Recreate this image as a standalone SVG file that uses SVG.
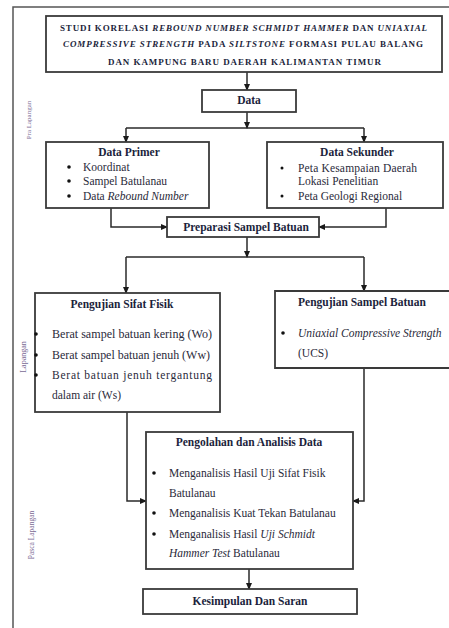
<svg xmlns="http://www.w3.org/2000/svg" width="449" height="628" viewBox="0 0 449 628">
<style>
.box{fill:#fff;stroke:#3a3a3a;stroke-width:1.8}
.ln{fill:none;stroke:#2a2a2a;stroke-width:1.5}
.t{font-family:"Liberation Serif","Times New Roman",serif;font-size:11.5px;fill:#2a2a3a}
.b{font-weight:bold;fill:#1c1f3c}
.c{text-anchor:middle}
.i{font-style:italic}
.h{font-family:"Liberation Serif","Times New Roman",serif;font-size:9px;font-weight:bold;fill:#1c1f3c}
.side{font-family:"Liberation Serif","Times New Roman",serif;font-size:7px;fill:#7a6a95;text-anchor:middle}
.dot{fill:#111}
</style>
<defs>
<marker id="ar" markerUnits="userSpaceOnUse" markerWidth="7" markerHeight="7" viewBox="0 0 7 7" refX="6" refY="3.5" orient="auto">
<path d="M0,0.5 L7,3.5 L0,6.5 Z" fill="#1a1a1a"/>
</marker>
</defs>
<rect width="449" height="628" fill="#fff"/>
<path d="M13,628 V7 H449" fill="none" stroke="#555" stroke-width="1.5"/>
<g id="side-labels">
<text class="side" transform="translate(31,120) rotate(-90)">Pra Lapangan</text>
<text class="side" transform="translate(26,357) rotate(-90)" style="font-size:8px">Lapangan</text>
<text class="side" transform="translate(34,535) rotate(-90)" style="font-size:7.5px">Pasca Lapangan</text>
</g>
<g id="connectors">
<line class="ln" x1="247" y1="72" x2="247" y2="90" marker-end="url(#ar)"/>
<line class="ln" x1="247" y1="112" x2="247" y2="128" marker-end="url(#ar)"/>
<line class="ln" x1="126" y1="128" x2="364" y2="128"/>
<line class="ln" x1="126" y1="128" x2="126" y2="142" marker-end="url(#ar)"/>
<line class="ln" x1="364" y1="128" x2="364" y2="142" marker-end="url(#ar)"/>
<path class="ln" d="M111,208 V227 H167" marker-end="url(#ar)"/>
<path class="ln" d="M386,208 V227 H319" marker-end="url(#ar)"/>
<line class="ln" x1="247" y1="237" x2="247" y2="257" marker-end="url(#ar)"/>
<line class="ln" x1="126" y1="257" x2="364" y2="257"/>
<line class="ln" x1="126" y1="257" x2="126" y2="293" marker-end="url(#ar)"/>
<line class="ln" x1="364" y1="257" x2="364" y2="291" marker-end="url(#ar)"/>
<path class="ln" d="M127,412 V501 H146" marker-end="url(#ar)"/>
<path class="ln" d="M364,368 V501 H353" marker-end="url(#ar)"/>
<line class="ln" x1="249" y1="569" x2="249" y2="589" marker-end="url(#ar)"/>
</g>
<g id="title">
<rect class="box" x="46" y="16" width="396" height="56"/>
<text class="h" x="60" y="31" textLength="367" lengthAdjust="spacing">STUDI KORELASI <tspan font-style="italic">REBOUND NUMBER SCHMIDT HAMMER</tspan> DAN <tspan font-style="italic">UNIAXIAL</tspan></text>
<text class="h" x="63" y="47" textLength="360" lengthAdjust="spacing"><tspan font-style="italic">COMPRESSIVE  STRENGTH</tspan> PADA <tspan font-style="italic">SILTSTONE</tspan> FORMASI PULAU BALANG</text>
<text class="h" x="108" y="65" textLength="273" lengthAdjust="spacing">DAN KAMPUNG BARU DAERAH KALIMANTAN TIMUR</text>
</g>
<g id="data">
<rect class="box" x="202" y="90" width="94" height="22"/>
<text class="t b c" x="249" y="104">Data</text>
</g>
<g id="data-primer">
<rect class="box" x="46" y="142" width="163" height="66"/>
<text class="t b c" x="129" y="156">Data Primer</text>
<circle class="dot" cx="69" cy="167" r="1.8"/>
<circle class="dot" cx="69" cy="181" r="1.8"/>
<circle class="dot" cx="69" cy="196" r="1.8"/>
<text class="t" x="83" y="171">Koordinat</text>
<text class="t" x="83" y="185">Sampel Batulanau</text>
<text class="t" x="83" y="200">Data <tspan class="i">Rebound Number</tspan></text>
</g>
<g id="data-sekunder">
<rect class="box" x="267" y="142" width="176" height="66"/>
<text class="t b c" x="357" y="156">Data Sekunder</text>
<circle class="dot" cx="282" cy="168" r="1.5"/>
<circle class="dot" cx="282" cy="196" r="1.5"/>
<text class="t" x="298" y="172" textLength="119" lengthAdjust="spacing">Peta Kesampaian Daerah</text>
<text class="t" x="298" y="185">Lokasi Penelitian</text>
<text class="t" x="298" y="200">Peta Geologi Regional</text>
</g>
<g id="preparasi">
<rect class="box" x="167" y="217" width="152" height="20"/>
<text class="t b c" x="246" y="231">Preparasi Sampel Batuan</text>
</g>
<g id="sifat-fisik">
<rect class="box" x="35" y="293" width="185" height="119"/>
<text class="t b c" x="122" y="308">Pengujian Sifat Fisik</text>
<circle class="dot" cx="36" cy="334" r="1.8"/>
<circle class="dot" cx="36" cy="355" r="1.8"/>
<circle class="dot" cx="36" cy="375" r="1.8"/>
<text class="t" x="52" y="338" textLength="160" lengthAdjust="spacingAndGlyphs">Berat sampel batuan kering (Wo)</text>
<text class="t" x="52" y="359" textLength="158" lengthAdjust="spacingAndGlyphs">Berat sampel batuan jenuh (Ww)</text>
<text class="t" x="52" y="379" textLength="160" lengthAdjust="spacing">Berat batuan jenuh tergantung</text>
<text class="t" x="52" y="399">dalam air (Ws)</text>
</g>
<g id="sampel-batuan">
<path class="box" d="M452,291 H275 V368 H452"/>
<text class="t b" x="298" y="306">Pengujian Sampel Batuan</text>
<circle class="dot" cx="283" cy="333" r="1.8"/>
<text class="t i" x="298" y="337">Uniaxial Compressive Strength</text>
<text class="t" x="298" y="357">(UCS)</text>
</g>
<g id="pengolahan">
<rect class="box" x="146" y="432" width="207" height="137"/>
<text class="t b c" x="249" y="446">Pengolahan dan Analisis Data</text>
<circle class="dot" cx="154" cy="473" r="1.8"/>
<circle class="dot" cx="154" cy="513" r="1.8"/>
<circle class="dot" cx="154" cy="534" r="1.8"/>
<text class="t" x="169" y="477">Menganalisis Hasil Uji Sifat Fisik</text>
<text class="t" x="169" y="497">Batulanau</text>
<text class="t" x="169" y="517">Menganalisis Kuat Tekan Batulanau</text>
<text class="t" x="169" y="538">Menganalisis Hasil <tspan class="i">Uji Schmidt</tspan></text>
<text class="t" x="169" y="557"><tspan class="i">Hammer Test</tspan> Batulanau</text>
</g>
<g id="kesimpulan">
<rect class="box" x="143" y="589" width="214" height="25"/>
<text class="t b c" x="250" y="605">Kesimpulan Dan Saran</text>
</g>
</svg>
